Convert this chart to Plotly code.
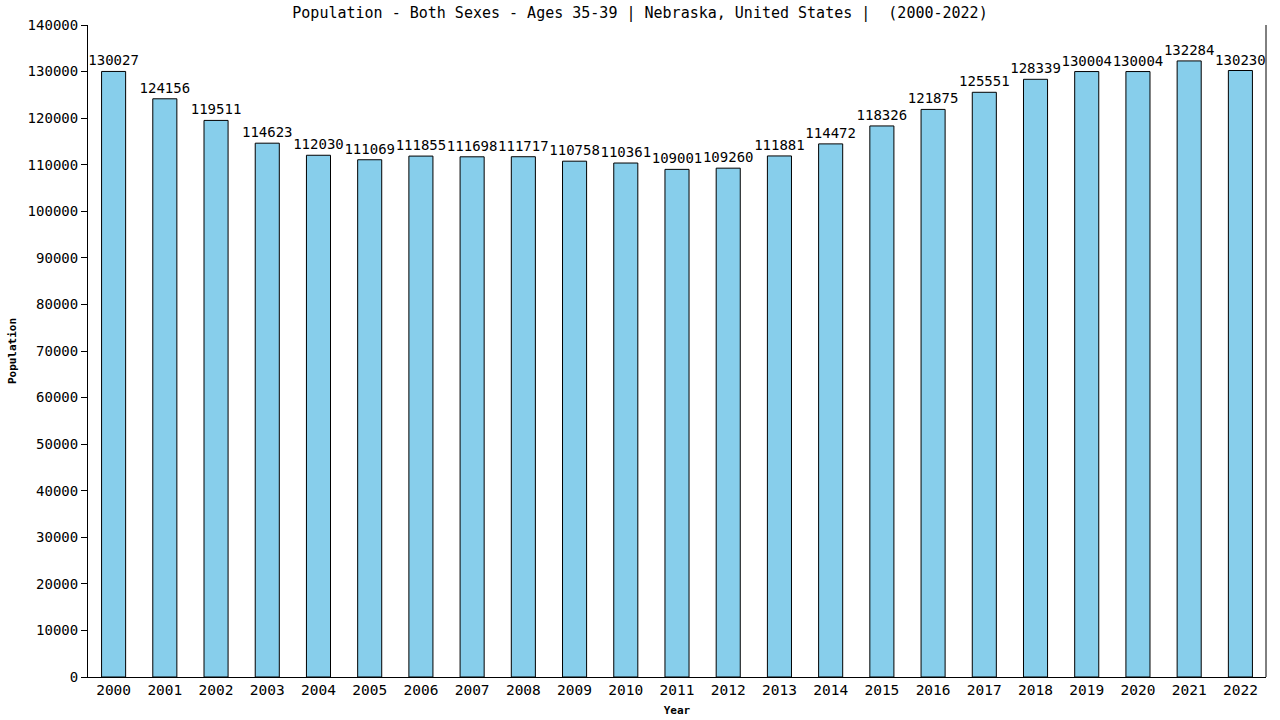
import plotly.graph_objects as go

years = [str(y) for y in range(2000, 2023)]
population = [130027, 124156, 119511, 114623, 112030, 111069, 111855, 111698, 111717,
              110758, 110361, 109001, 109260, 111881, 114472, 118326, 121875, 125551,
              128339, 130004, 130004, 132284, 130230]
y_ticks = list(range(0, 140001, 10000))

FONT = "DejaVu Sans Mono"

fig = go.Figure()
fig.add_trace(go.Bar(
    x=years, y=population,
    marker=dict(color="#87CEEB", line=dict(color="black", width=1)),
    width=0.47,
    text=[str(v) for v in population],
    textposition="outside",
    constraintext="none",
    textfont=dict(family=FONT, size=14, color="black"),
    cliponaxis=False,
))

fig.update_layout(
    width=1280, height=720,
    margin=dict(l=88, r=14, t=25, b=43),
    paper_bgcolor="white", plot_bgcolor="white",
    showlegend=False,
    title=dict(text="Population - Both Sexes - Ages 35-39 | Nebraska, United States |  (2000-2022)",
               x=0.5, xanchor="center", y=0.982, yanchor="middle",
               font=dict(family=FONT, size=15, color="black")),
)
fig.update_xaxes(
    type="category", showline=True, linecolor="black", linewidth=1, mirror=False,
    ticks="", tickfont=dict(family=FONT, size=14.5, color="black"),
    title=dict(text="<b>Year</b>", font=dict(family=FONT, size=11, color="black"), standoff=8),
    showgrid=False, automargin=False,
)
fig.update_yaxes(
    range=[0, 140000], tickvals=y_ticks, ticktext=[str(v) for v in y_ticks],
    showline=True, linecolor="black", linewidth=1,
    ticks="outside", ticklen=6, tickcolor="black",
    tickfont=dict(family=FONT, size=14, color="black"),
    title=dict(text="<b>Population</b>", font=dict(family=FONT, size=11, color="black"), standoff=8),
    showgrid=False, zeroline=False, automargin=False,
)
# right border line
fig.add_shape(type="line", xref="paper", yref="paper", x0=1, x1=1, y0=0, y1=1,
              line=dict(color="black", width=1))

fig.write_html("out.html")
